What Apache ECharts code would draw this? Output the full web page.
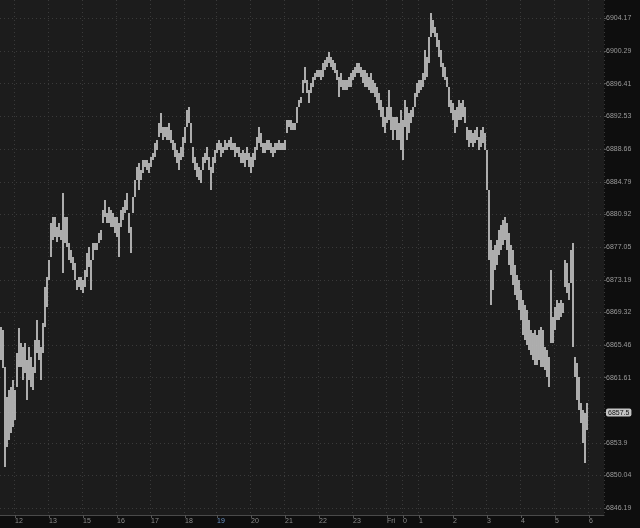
<!DOCTYPE html>
<html>
<head>
<meta charset="utf-8">
<script src="https://cdn.jsdelivr.net/npm/echarts@6/dist/echarts.min.js"></script>
<style>
html,body{margin:0;padding:0;background:#0e0e0e;}
#c{width:640px;height:528px;}
</style>
</head>
<body>
<div id="c"></div>
<script>
// Bar highs (price), one per time slot
const highs = [
6867.61,6867.25,6862.87,6859.32,6860.15,6860.51,6861.33,6860.15,6864.53,6867.49,
6865.71,6865.24,6865.71,6863.70,6865.24,6864.06,6862.87,6866.07,6868.43,6866.07,
6865.24,6868.08,6872.34,6873.52,6875.53,6879.91,6880.62,6880.62,6879.44,6879.91,
6879.08,6883.46,6880.62,6880.62,6877.55,6876.72,6875.89,6875.18,6873.17,6873.52,
6873.52,6873.17,6874.35,6876.36,6877.07,6875.53,6877.55,6877.55,6877.55,6878.73,
6879.08,6881.45,6882.63,6881.10,6881.81,6881.45,6881.10,6880.62,6880.62,6879.91,
6881.45,6881.81,6882.63,6883.46,6881.10,6879.44,6882.99,6885.00,6886.54,6887.01,
6886.18,6887.37,6887.37,6887.37,6887.01,6887.72,6888.20,6889.38,6889.73,6891.75,
6892.93,6891.27,6891.27,6891.27,6891.75,6890.92,6889.73,6889.38,6888.55,6888.20,
6888.91,6890.09,6891.27,6893.28,6893.64,6891.75,6888.91,6887.72,6887.01,6886.54,
6886.18,6887.72,6888.20,6888.91,6887.72,6886.54,6887.72,6888.55,6889.38,6889.73,
6889.38,6888.91,6889.73,6889.38,6889.73,6890.09,6889.38,6889.38,6888.91,6888.91,
6888.20,6888.55,6888.20,6888.91,6888.20,6887.72,6888.20,6888.91,6890.09,6891.27,
6890.56,6889.38,6889.38,6889.73,6889.73,6889.38,6888.91,6889.38,6889.38,6889.73,
6889.38,6889.38,6889.73,6892.10,6892.10,6892.10,6891.75,6891.75,6893.64,6894.47,
6894.82,6896.83,6898.37,6896.83,6895.65,6896.48,6897.19,6897.66,6898.02,6898.02,
6898.02,6898.85,6899.20,6899.56,6900.15,6899.56,6899.20,6898.85,6898.02,6897.19,
6897.66,6896.83,6896.83,6896.83,6897.19,6897.66,6898.02,6898.37,6898.85,6898.85,
6898.37,6898.02,6898.02,6897.66,6897.19,6897.66,6896.83,6896.48,6896.01,6895.30,
6894.47,6893.64,6892.46,6893.64,6895.65,6893.64,6892.46,6892.46,6892.46,6891.75,
6893.28,6892.10,6894.47,6893.64,6892.93,6893.28,6893.64,6895.30,6896.48,6896.83,
6896.83,6897.66,6900.38,6899.56,6901.92,6904.76,6903.93,6903.11,6902.40,6901.57,
6900.38,6898.85,6898.37,6897.19,6896.01,6894.47,6894.11,6893.28,6893.64,6894.47,
6894.11,6894.47,6893.64,6891.27,6890.92,6890.92,6890.56,6890.92,6891.27,6890.09,
6890.92,6891.27,6890.56,6888.55,6883.82,6877.90,6876.72,6877.31,6877.90,6879.08,
6879.68,6880.27,6880.62,6879.91,6878.73,6877.31,6876.72,6874.94,6873.76,6873.17,
6871.98,6870.80,6870.21,6869.62,6868.43,6867.25,6866.90,6867.25,6866.66,6867.25,
6867.61,6867.25,6865.24,6864.88,6864.06,6874.35,6868.79,6869.97,6870.80,6870.45,
6870.80,6870.45,6875.53,6875.18,6872.81,6876.72,6877.55,6864.06,6863.35,6861.69,
6858.61,6857.78,6857.43,6858.61
];
// Bar lows (price)
const lows = [
6863.70,6862.75,6851.04,6853.41,6854.23,6855.06,6855.77,6856.60,6860.51,6862.87,
6862.87,6861.33,6862.16,6858.97,6861.33,6860.51,6860.15,6862.16,6864.53,6863.70,
6861.33,6864.53,6867.61,6869.97,6873.17,6875.89,6877.90,6878.26,6877.66,6878.26,
6877.90,6874.00,6877.55,6877.07,6875.53,6875.18,6874.35,6873.17,6871.98,6872.34,
6871.98,6871.63,6872.34,6873.52,6874.71,6871.98,6875.53,6876.72,6876.72,6877.55,
6877.90,6879.91,6880.62,6879.91,6879.91,6879.44,6879.44,6878.73,6878.26,6875.89,
6879.44,6880.27,6881.10,6881.45,6878.73,6876.36,6881.10,6882.99,6885.00,6883.82,
6885.00,6885.83,6886.54,6886.18,6885.83,6886.54,6887.37,6887.72,6888.55,6890.09,
6890.56,6889.73,6890.09,6889.73,6889.73,6889.38,6888.55,6887.72,6887.01,6886.18,
6887.37,6887.72,6889.38,6891.27,6891.75,6889.38,6887.01,6886.18,6885.36,6885.00,
6884.65,6886.18,6887.01,6887.37,6886.18,6883.82,6885.83,6887.01,6888.20,6888.55,
6887.72,6888.20,6888.55,6888.55,6888.91,6888.55,6888.55,6887.72,6888.20,6887.72,
6887.01,6887.01,6886.54,6887.37,6886.54,6885.83,6886.54,6887.37,6888.55,6889.38,
6888.91,6888.20,6888.20,6888.55,6888.55,6888.20,6887.72,6888.20,6888.55,6888.55,
6888.55,6888.55,6888.55,6890.56,6891.27,6890.92,6890.92,6890.92,6891.75,6893.64,
6894.11,6895.30,6896.48,6895.30,6894.11,6895.30,6896.01,6896.83,6897.19,6897.19,
6896.83,6897.19,6898.02,6898.37,6898.85,6898.37,6898.02,6897.66,6896.83,6894.82,
6896.01,6895.65,6895.65,6895.65,6896.01,6896.01,6896.83,6897.19,6897.66,6897.66,
6897.19,6896.48,6896.01,6896.01,6895.65,6895.30,6895.30,6894.82,6894.11,6893.28,
6892.46,6891.27,6890.56,6891.75,6892.10,6890.92,6889.73,6890.92,6889.73,6889.73,
6888.55,6887.37,6891.27,6889.73,6890.56,6891.75,6892.46,6893.64,6894.82,6895.30,
6895.65,6896.01,6896.83,6897.19,6898.85,6901.92,6902.40,6901.92,6900.74,6899.56,
6898.37,6897.19,6896.83,6896.01,6893.64,6892.93,6892.10,6890.56,6891.27,6892.10,
6892.10,6892.46,6891.75,6889.73,6888.91,6889.38,6888.91,6889.38,6889.73,6888.55,
6888.91,6889.38,6888.55,6883.82,6875.53,6870.21,6871.98,6874.35,6874.94,6876.13,
6876.72,6877.31,6877.90,6876.72,6874.94,6873.76,6872.58,6871.39,6870.80,6869.62,
6868.43,6866.66,6866.07,6865.48,6864.88,6864.29,6863.70,6863.11,6863.11,6863.70,
6862.87,6862.87,6862.52,6861.69,6860.51,6865.71,6865.71,6867.25,6868.43,6868.43,
6868.79,6869.26,6872.34,6871.63,6870.80,6872.81,6865.24,6861.69,6858.97,6857.78,
6856.25,6853.88,6851.51,6855.42
];
// Total time slots shown on the x axis (including empty space at the right)
const slotCount = 302;
// Time-axis labels and the slot at which each falls
const timeLabels = ['12','13','15','16','17','18','19','20','21','22','23','Fri','0','1','2','3','4','5','6'];
const timeSlots  = [7,24,41,58,75,92,108,125,142,159,176,193,201,209,226,243,260,277,294];
// Price-axis tick labels
const priceTicks = [6904.17,6900.29,6896.41,6892.53,6888.66,6884.79,6880.92,6877.05,6873.19,6869.32,6865.46,6861.61,6857.5,6853.9,6850.04,6846.19];
const lastPrice = 6857.5;
const priceMin = 6845.36, priceMax = 6906.30;

const categories = [];
for (let i = 0; i < slotCount; i++) categories.push(String(i));
const labelAt = {};
timeSlots.forEach((s, k) => { labelAt[s] = timeLabels[k]; });
const isTick = (idx) => labelAt[idx] !== undefined;

const data = highs.map((h, i) => [i, h, lows[i]]);

const chart = echarts.init(document.getElementById('c'), null, {renderer: 'canvas'});
chart.setOption({
  backgroundColor: '#0e0e0e',
  animation: false,
  grid: {left: 0, right: 36, top: 0, bottom: 13, show: true, backgroundColor: '#1c1c1c', borderWidth: 0},
  xAxis: {
    type: 'category',
    data: categories,
    boundaryGap: true,
    axisLine: {show: true, lineStyle: {color: '#4a4a4a', width: 1}},
    axisTick: {show: true, alignWithLabel: true, interval: (idx) => isTick(idx), length: 3, lineStyle: {color: '#555'}},
    axisLabel: {
      show: true, interval: (idx) => isTick(idx), align: 'left', margin: 3,
      fontSize: 7, fontFamily: 'Liberation Sans', color: '#8c8c8c',
      formatter: (v, idx) => {
        const t = labelAt[Number(v)];
        if (t === undefined) return '';
        return t === '19' ? '{blue|19}' : t;
      },
      rich: {blue: {color: '#6c95c8', fontSize: 7, fontFamily: 'Liberation Sans'}}
    },
    splitLine: {show: true, interval: (idx) => isTick(idx), lineStyle: {color: '#3a3a3a', type: [1, 3], width: 1}}
  },
  yAxis: {
    type: 'value',
    position: 'right',
    min: priceMin,
    max: priceMax,
    axisLine: {show: false},
    axisTick: {show: true, customValues: priceTicks, length: 2, lineStyle: {color: '#555'}},
    axisLabel: {
      show: true, customValues: priceTicks, margin: 2, fontSize: 7, fontFamily: 'Liberation Sans', color: '#9a9a9a',
      formatter: (v) => (Math.abs(v - lastPrice) < 1e-6 ? '{hl|' + v + '}' : String(v)),
      rich: {hl: {backgroundColor: '#c4c4c4', color: '#111', borderRadius: 2, padding: [1, 2, 0, 2], fontSize: 7, fontFamily: 'Liberation Sans'}}
    },
    splitLine: {show: true, lineStyle: {color: '#3a3a3a', type: [1, 3], width: 1}}
  },
  series: [{
    type: 'custom',
    data: data,
    encode: {x: 0, y: [1, 2]},
    clip: true,
    renderItem: (params, api) => {
      const i = api.value(0);
      const top = api.coord([i, api.value(1)]);
      const bot = api.coord([i, api.value(2)]);
      const w = api.size([1, 0])[0];
      return {
        type: 'rect',
        shape: {x: top[0] - w * 0.45, y: top[1], width: w * 0.9, height: Math.max(1, bot[1] - top[1])},
        style: {fill: '#bebebe'}
      };
    }
  }]
});
</script>
</body>
</html>
